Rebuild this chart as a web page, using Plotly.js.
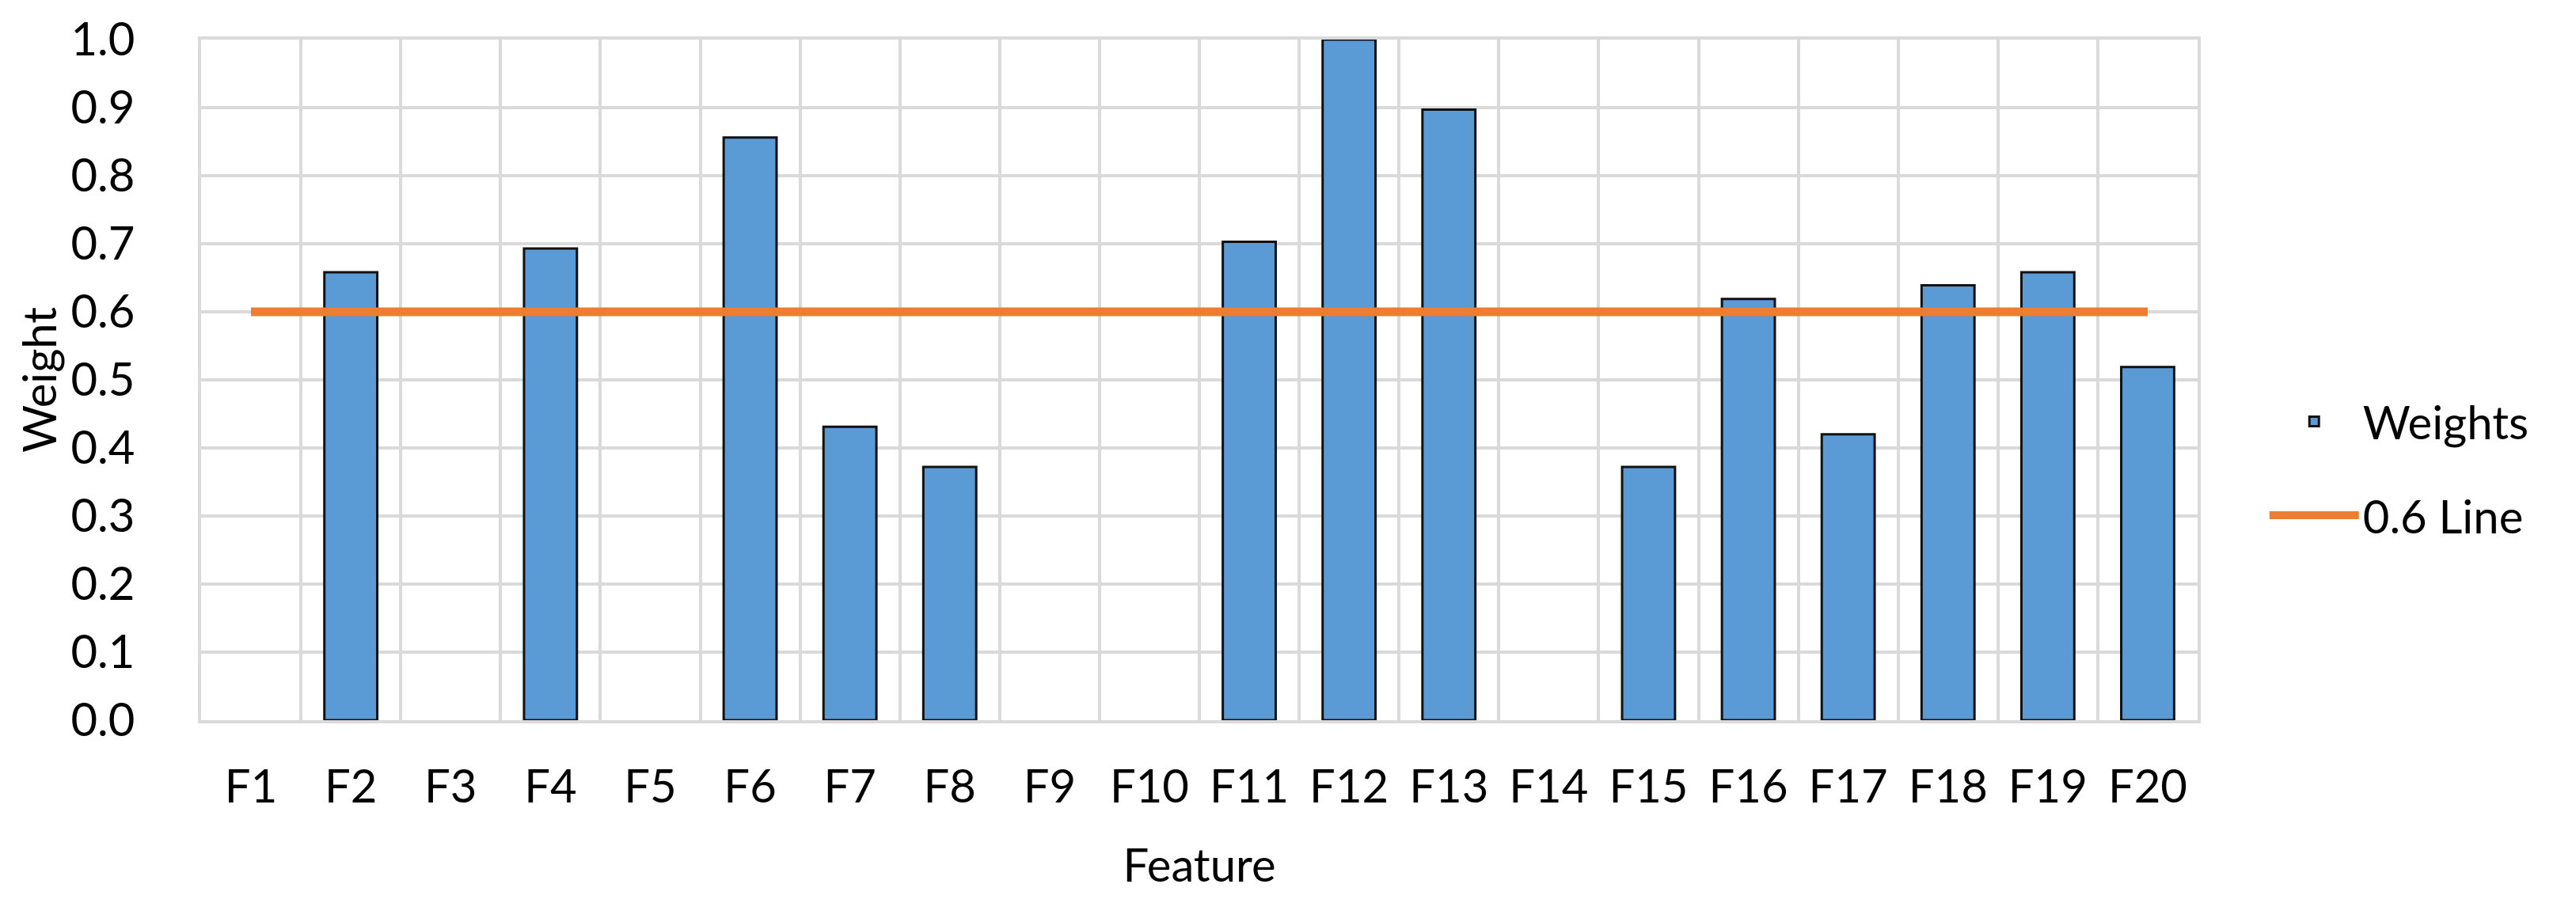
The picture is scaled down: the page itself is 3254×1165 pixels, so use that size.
<!DOCTYPE html>
<html>
<head>
<meta charset="utf-8">
<script src="https://cdn.plot.ly/plotly-3.0.1.min.js"></script>
<style>html,body{margin:0;padding:0;background:#fff;}#chart{width:3254px;height:1165px;}</style>
</head>
<body>
<div id="chart"></div>
<script>
const features = ["F1","F2","F3","F4","F5","F6","F7","F8","F9","F10","F11","F12","F13","F14","F15","F16","F17","F18","F19","F20"];
const weights = [0, 0.658, 0, 0.693, 0, 0.856, 0.431, 0.372, 0, 0, 0.703, 1.0, 0.897, 0, 0.372, 0.619, 0.420, 0.639, 0.658, 0.519];
const thresholdValue = 0.6;
const threshold = features.map(() => thresholdValue);
const yTicks = [0,0.1,0.2,0.3,0.4,0.5,0.6,0.7,0.8,0.9,1.0];

const FONT = "Lato, 'Open Sans', sans-serif";
const GRID = "#DADADA";

// zero-weight features draw no visible bar (as in the original chart)
const barValues = weights.map(w => (w === 0 ? null : w));

const traces = [
  {
    type: "bar", name: "Weights", x: features, y: barValues,
    marker: {color: "#5B9BD5", line: {color: "#111", width: 3}},
    legendgroup: "a", hoverinfo: "x+y"
  },
  {
    type: "scatter", mode: "lines", name: "0.6 Line", x: features, y: threshold,
    line: {color: "#ED7D31", width: 11},
    legendgroup: "b"
  }
];

const layout = {
  width: 3254, height: 1165,
  margin: {l: 254, r: 478, t: 50, b: 255},
  paper_bgcolor: "#fff", plot_bgcolor: "#fff",
  font: {family: FONT, size: 58, color: "#000"},
  bargap: 0.47,
  showlegend: true,
  legend: {
    x: 1.034, xanchor: "left", y: 0.37, yanchor: "middle",
    font: {family: FONT, size: 58, color: "#000"},
    itemwidth: 113, traceorder: "grouped", tracegroupgap: 40,
    bgcolor: "rgba(0,0,0,0)"
  },
  xaxis: {
    type: "category", tickson: "boundaries",
    showgrid: true, gridcolor: GRID, gridwidth: 4,
    showline: true, linecolor: GRID, linewidth: 4, mirror: true,
    ticks: "", ticklabelstandoff: 30,
    tickfont: {family: FONT, size: 58, color: "#000"},
    title: {text: "Feature", font: {family: FONT, size: 58, color: "#000"}, standoff: 50},
    zeroline: false, fixedrange: true
  },
  yaxis: {
    range: [0, 1], tickvals: yTicks, tickformat: ".1f",
    showgrid: true, gridcolor: GRID, gridwidth: 4,
    showline: true, linecolor: GRID, linewidth: 4, mirror: true,
    ticks: "outside", ticklen: 68, tickcolor: "rgba(0,0,0,0)",
    tickfont: {family: FONT, size: 58, color: "#000"},
    title: {text: "Weight", font: {family: FONT, size: 58, color: "#000"}, standoff: 0},
    zeroline: false, fixedrange: true
  }
};

Plotly.newPlot("chart", traces, layout, {displayModeBar: false, staticPlot: true});
</script>
</body>
</html>
